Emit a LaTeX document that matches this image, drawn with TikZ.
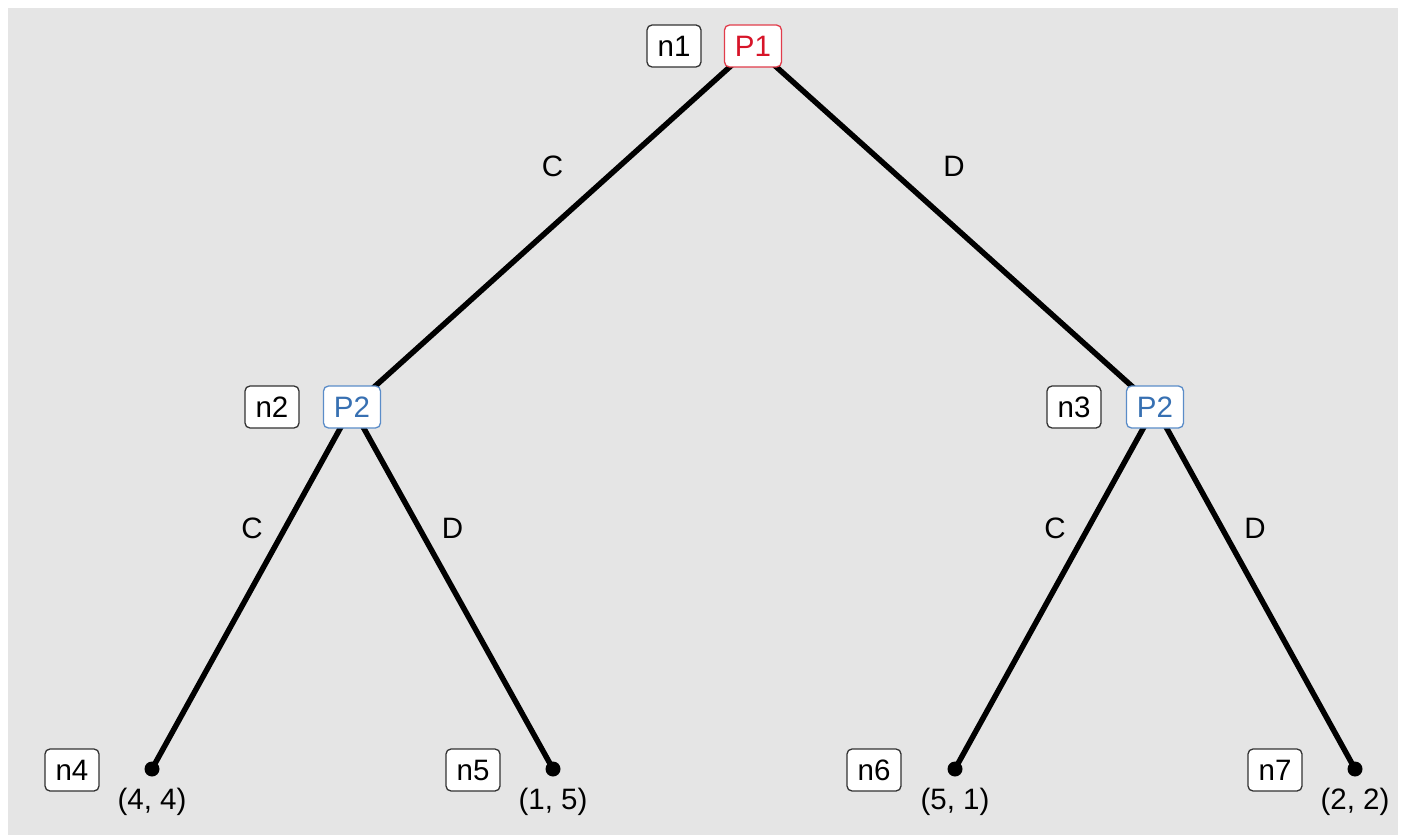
\documentclass[tikz,border=0pt]{standalone}
\usepackage{fontspec}
\setmainfont{Liberation Sans}
\definecolor{bggray}{RGB}{229,229,229}
\definecolor{pone}{RGB}{215,20,40}
\definecolor{poneb}{RGB}{225,60,75}
\definecolor{ptwo}{RGB}{55,112,178}
\definecolor{ptwob}{RGB}{90,140,200}
\definecolor{nbord}{RGB}{50,50,50}
\pgfdeclarelayer{bg}
\pgfdeclarelayer{edges}
\pgfsetlayers{bg,edges,main}
\tikzset{
  base/.style={font=\fontsize{29.5}{34}\selectfont},
  idbox/.style={base, draw=nbord, fill=white, line width=1.3pt, rounded corners=5pt,
    minimum width=54pt, minimum height=42pt, inner sep=0pt},
  pbox/.style={base, fill=white, line width=1.3pt, rounded corners=5pt,
    minimum width=57pt, minimum height=42pt, inner sep=0pt},
  p1box/.style={pbox, draw=poneb, text=pone},
  p2box/.style={pbox, draw=ptwob, text=ptwo},
  leaf/.style={circle, fill=black, minimum size=15pt, inner sep=0pt},
  branch/.style={line width=5.5pt, black},
  elabel/.style={base, text=black},
  payoff/.style={base, text=black}
}
\begin{document}
\begin{tikzpicture}[x=1pt, y=-1pt]
\useasboundingbox (0,0) rectangle (1401,837);
\begin{pgfonlayer}{bg}
\fill[bggray] (8,8) rectangle (1398,835);
\end{pgfonlayer}
% decision nodes
\node[p1box] (r) at (753,46) {P1};
\node[p2box] (a) at (352,407) {P2};
\node[p2box] (b) at (1155,407) {P2};
% leaves
\node[leaf] (l1) at (152,769) {};
\node[leaf] (l2) at (553,769) {};
\node[leaf] (l3) at (955,769) {};
\node[leaf] (l4) at (1355,769) {};
% id labels
\node[idbox] (n1) at (674,46) {n1};
\node[idbox] (n2) at (272,407) {n2};
\node[idbox] (n3) at (1074,407) {n3};
\node[idbox] (n4) at (72,770) {n4};
\node[idbox] (n5) at (473,770) {n5};
\node[idbox] (n6) at (874,770) {n6};
\node[idbox] (n7) at (1275,770) {n7};
% payoffs
\node[payoff] (q1) at (152,802) {(4, 4)};
\node[payoff] (q2) at (553,802) {(1, 5)};
\node[payoff] (q3) at (955,802) {(5, 1)};
\node[payoff] (q4) at (1355,802) {(2, 2)};
% edges
\begin{pgfonlayer}{edges}
\draw[branch] (r.center) -- node[elabel, pos=0.5, yshift=60pt] (e1) {C} (a.center);
\draw[branch] (r.center) -- node[elabel, pos=0.5, yshift=60pt] (e2) {D} (b.center);
\draw[branch] (a.center) -- node[elabel, pos=0.5, yshift=60pt] (e3) {C} (l1.center);
\draw[branch] (a.center) -- node[elabel, pos=0.5, yshift=60pt] (e4) {D} (l2.center);
\draw[branch] (b.center) -- node[elabel, pos=0.5, yshift=60pt] (e5) {C} (l3.center);
\draw[branch] (b.center) -- node[elabel, pos=0.5, yshift=60pt] (e6) {D} (l4.center);
\end{pgfonlayer}
\end{tikzpicture}
\end{document}
